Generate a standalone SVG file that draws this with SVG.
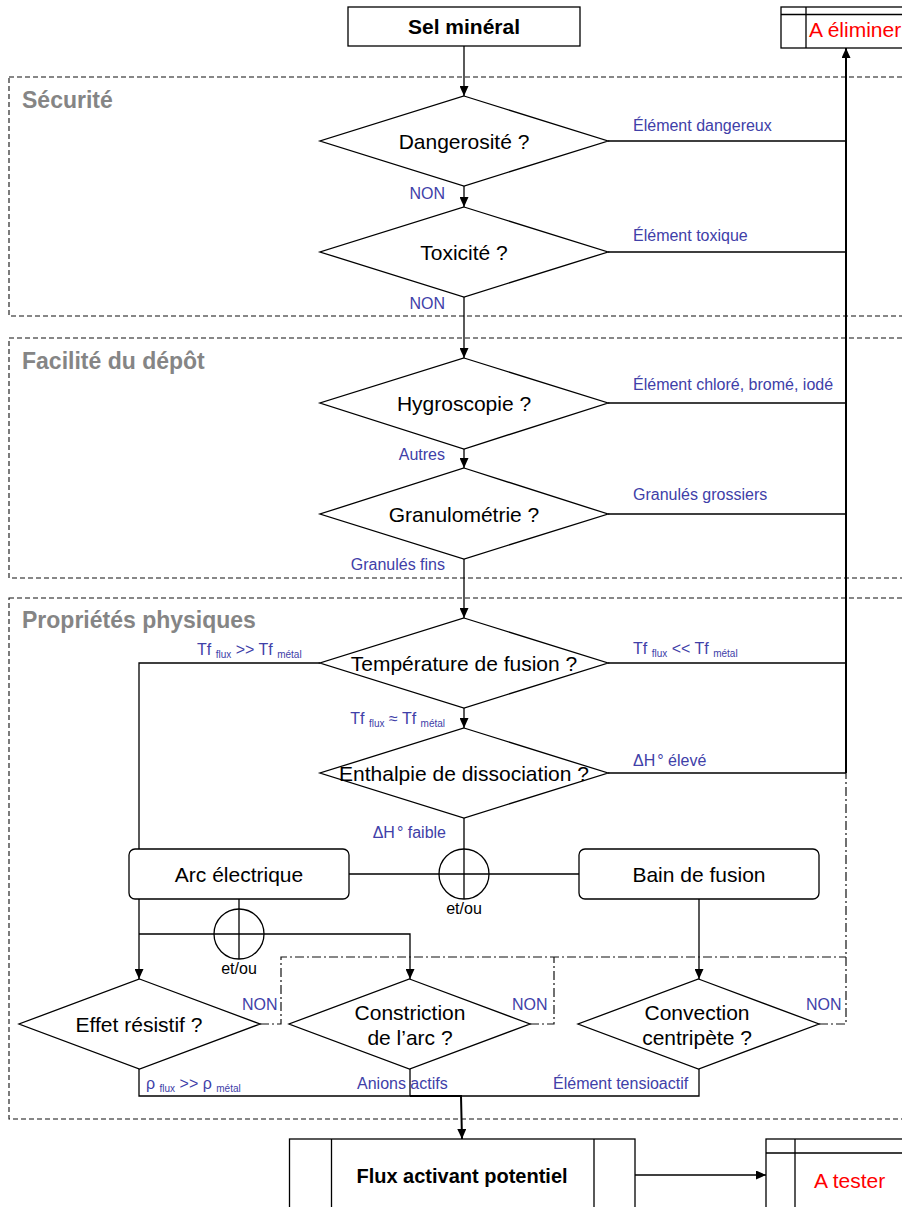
<svg xmlns="http://www.w3.org/2000/svg" width="902" height="1207" viewBox="0 0 902 1207">
<defs>
<marker id="arr" markerUnits="userSpaceOnUse" markerWidth="10" markerHeight="9" refX="10" refY="4.5" orient="auto"><path d="M0,0 L10,4.5 L0,9 z" fill="#000"/></marker>
</defs>
<style>
text{font-family:"Liberation Sans",Arial,Helvetica,sans-serif}
.sec{fill:none;stroke:#111;stroke-width:1.1;stroke-dasharray:5,3}
.st{fill:#858585;font-weight:bold;font-size:23px}
.shape{fill:#fff;stroke:#000;stroke-width:1.3}
.t{font-size:21px;fill:#000;text-anchor:middle}
.b{font-weight:bold}
.lbl{font-size:16px;fill:#4040a8}
.end{text-anchor:end}
.sub{font-size:10px}
.c{fill:none;stroke:#000;stroke-width:1.3}
.ck{fill:none;stroke:#000;stroke-width:2}
.dd{fill:none;stroke:#111;stroke-width:1.2;stroke-dasharray:9,3,2,3}
.red{fill:#f00;font-size:21px}
.eo{font-size:16px;fill:#000;text-anchor:middle}
.circ{fill:none;stroke:#000;stroke-width:1.3}
</style>

<g id="sections">
<rect class="sec" x="9" y="77" width="900" height="239"/>
<text class="st" x="22" y="108">Sécurité</text>
<rect class="sec" x="9" y="338" width="900" height="240"/>
<text class="st" x="22" y="369">Facilité du dépôt</text>
<rect class="sec" x="9" y="598" width="900" height="521"/>
<text class="st" x="22" y="628">Propriétés physiques</text>
</g>

<g id="connectors">
<path class="c" d="M464,46 V96" marker-end="url(#arr)"/>
<path class="c" d="M464,186 V207" marker-end="url(#arr)"/>
<path class="c" d="M464,297 V358" marker-end="url(#arr)"/>
<path class="c" d="M464,449 V468" marker-end="url(#arr)"/>
<path class="c" d="M464,559 V618" marker-end="url(#arr)"/>
<path class="c" d="M464,708 V728" marker-end="url(#arr)"/>
<path class="c" d="M608,141 H846 M608,252 H846 M608,403 H846 M608,514 H846 M608,663 H846 M608,773 H846"/>
<path class="ck" d="M846,773 V48" marker-end="url(#arr)"/>
<path class="c" d="M464,818 V899 M349,874 H579"/>
<path class="c" d="M320,663 H139 V849"/>
<path class="c" d="M139,899 V979" marker-end="url(#arr)"/>
<path class="c" d="M239,899 V959 M139,934 H410 V979" marker-end="url(#arr)"/>
<path class="c" d="M699,899 V979" marker-end="url(#arr)"/>
<path class="dd" d="M260,1024 H281 V957 H846"/>
<path class="dd" d="M530,1024 H554 V957"/>
<path class="dd" d="M819,1024 H846 V773"/>
<path class="c" d="M139,1069 V1096 H699 V1069 M410,1069 V1096"/>
<path class="ck" d="M410,1096 H461 L462,1139" marker-end="url(#arr)"/>
<path class="c" d="M635,1175 H766" marker-end="url(#arr)"/>
</g>

<g id="sel-mineral">
<rect class="shape" x="348" y="7" width="232" height="39"/>
<text class="t b" x="464" y="34">Sel minéral</text>
</g>

<g id="a-eliminer">
<rect class="shape" x="781" y="7" width="130" height="41"/>
<path class="c" d="M781,14.5 H911 M806,7 V48"/>
<text class="red" x="809" y="37">A éliminer</text>
</g>

<g id="dangerosite">
<polygon class="shape" points="464,96 608,141 464,186 320,141"/>
<text class="t" x="464" y="149">Dangerosité ?</text>
</g>

<g id="toxicite">
<polygon class="shape" points="464,207 608,252 464,297 320,252"/>
<text class="t" x="464" y="260">Toxicité ?</text>
</g>

<g id="hygroscopie">
<polygon class="shape" points="464,358 608,403 464,449 320,403"/>
<text class="t" x="464" y="411">Hygroscopie ?</text>
</g>

<g id="granulometrie">
<polygon class="shape" points="464,468 608,514 464,559 320,514"/>
<text class="t" x="464" y="522">Granulométrie ?</text>
</g>

<g id="temperature">
<polygon class="shape" points="464,618 608,663 464,708 320,663"/>
<text class="t" x="464" y="671">Température de fusion ?</text>
</g>

<g id="enthalpie">
<polygon class="shape" points="464,728 608,773 464,818 320,773"/>
<text class="t" x="464" y="781">Enthalpie de dissociation ?</text>
</g>

<g id="etou-1">
<circle class="circ" cx="464" cy="874" r="25"/>
<text class="eo" x="464" y="914">et/ou</text>
</g>

<g id="arc-electrique">
<rect class="shape" x="129" y="849" width="220" height="50" rx="6"/>
<text class="t" x="239" y="882">Arc électrique</text>
</g>

<g id="bain-de-fusion">
<rect class="shape" x="579" y="849" width="240" height="50" rx="6"/>
<text class="t" x="699" y="882">Bain de fusion</text>
</g>

<g id="etou-2">
<circle class="circ" cx="239" cy="934" r="25"/>
<text class="eo" x="239" y="974">et/ou</text>
</g>

<g id="effet-resistif">
<polygon class="shape" points="139.5,979 260,1024 139.5,1069 19,1024"/>
<text class="t" x="139" y="1032">Effet résistif ?</text>
</g>

<g id="constriction">
<polygon class="shape" points="409.5,979 530,1024 409.5,1069 289,1024"/>
<text class="t" x="410" y="1020">Constriction</text>
<text class="t" x="410" y="1045">de l’arc ?</text>
</g>

<g id="convection">
<polygon class="shape" points="698.5,979 819,1024 698.5,1069 578,1024"/>
<text class="t" x="697" y="1020">Convection</text>
<text class="t" x="697" y="1045">centripète ?</text>
</g>

<g id="flux-activant">
<rect class="shape" x="289.5" y="1139" width="345.5" height="80"/>
<path class="c" d="M331.5,1139 V1219 M594,1139 V1219"/>
<text class="t b" x="462" y="1183" style="font-size:20px">Flux activant potentiel</text>
</g>

<g id="a-tester">
<rect class="shape" x="766" y="1139" width="145" height="80"/>
<path class="c" d="M766,1153 H911 M795,1139 V1219"/>
<text class="red" x="814" y="1188">A tester</text>
</g>

<g id="labels">
<text class="lbl" x="633" y="131">Élément dangereux</text>
<text class="lbl" x="633" y="241">Élément toxique</text>
<text class="lbl" x="633" y="390">Élément chloré, bromé, iodé</text>
<text class="lbl" x="633" y="500">Granulés grossiers</text>
<text class="lbl" x="633" y="654">Tf <tspan class="sub" dy="3">flux</tspan><tspan dy="-3"> &lt;&lt; Tf </tspan><tspan class="sub" dy="3">métal</tspan></text>
<text class="lbl" x="633" y="766">ΔH<tspan dx="2">°</tspan> élevé</text>
<text class="lbl end" x="445" y="199">NON</text>
<text class="lbl end" x="445" y="309">NON</text>
<text class="lbl end" x="445" y="460">Autres</text>
<text class="lbl end" x="445" y="570">Granulés fins</text>
<text class="lbl end" x="445" y="724">Tf <tspan class="sub" dy="3">flux</tspan><tspan dy="-3"> ≈ Tf </tspan><tspan class="sub" dy="3">métal</tspan></text>
<text class="lbl end" x="446" y="838">ΔH<tspan dx="2">°</tspan> faible</text>
<text class="lbl" x="197" y="655">Tf <tspan class="sub" dy="3">flux</tspan><tspan dy="-3"> &gt;&gt; Tf </tspan><tspan class="sub" dy="3">métal</tspan></text>
<text class="lbl" x="242" y="1010">NON</text>
<text class="lbl" x="512" y="1010">NON</text>
<text class="lbl" x="806" y="1010">NON</text>
<text class="lbl" x="146" y="1089">ρ <tspan class="sub" dy="3">flux</tspan><tspan dy="-3"> &gt;&gt; ρ </tspan><tspan class="sub" dy="3">métal</tspan></text>
<text class="lbl" x="357" y="1089">Anions actifs</text>
<text class="lbl" x="553" y="1089">Élément tensioactif</text>
</g>
</svg>
